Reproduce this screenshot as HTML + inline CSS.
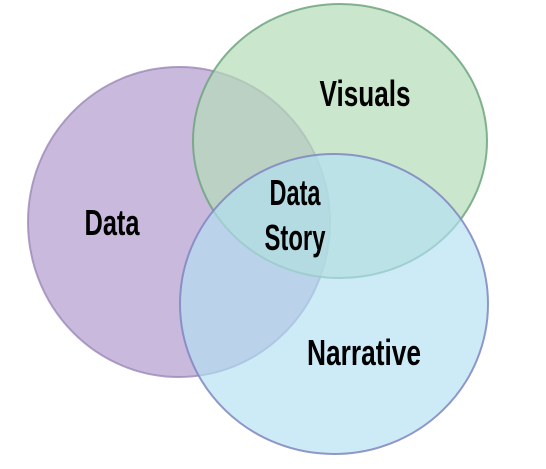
<!DOCTYPE html>
<html><head><style>html,body{margin:0;padding:0;background:#fff;width:546px;height:469px;overflow:hidden}</style></head>
<body>
<svg width="546" height="469" viewBox="0 0 546 469" xmlns="http://www.w3.org/2000/svg">
<g stroke-width="2">
<ellipse cx="179" cy="222" rx="151" ry="155" fill="#b7a3d1" fill-opacity="0.75" stroke="#9b88b8" stroke-opacity="0.8"/>
<ellipse cx="340" cy="141" rx="147" ry="137" fill="#b4dcb8" fill-opacity="0.7" stroke="#6fa47f" stroke-opacity="0.85"/>
<ellipse cx="334" cy="304" rx="154" ry="150" fill="#b2e0f2" fill-opacity="0.65" stroke="#7f86c0" stroke-opacity="0.85"/>
</g>
<g font-family="'Liberation Sans Narrow','Liberation Sans',sans-serif" font-weight="bold" font-size="36" fill="#000" text-anchor="middle">
<text x="365" y="106" textLength="91" lengthAdjust="spacingAndGlyphs">Visuals</text>
<text x="112" y="235" textLength="55" lengthAdjust="spacingAndGlyphs">Data</text>
<text x="295" y="205" textLength="51" lengthAdjust="spacingAndGlyphs">Data</text>
<text x="295" y="250" textLength="61" lengthAdjust="spacingAndGlyphs">Story</text>
<text x="364" y="365" textLength="114" lengthAdjust="spacingAndGlyphs">Narrative</text>
</g>
</svg>
</body></html>
